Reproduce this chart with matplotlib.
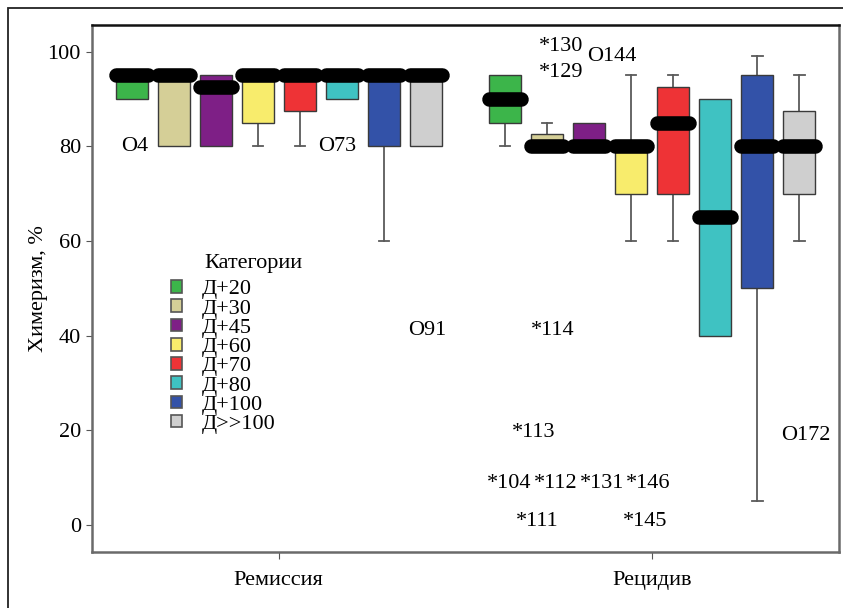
import matplotlib
matplotlib.use("Agg")
import matplotlib.pyplot as plt
from matplotlib.patches import Patch, Rectangle

# ── Data ───────────────────────────────────────────────────────────────────────
GROUPS     = ["Ремиссия", "Рецидив"]
CATEGORIES = ["Д+20", "Д+30", "Д+45", "Д+60", "Д+70", "Д+80", "Д+100", "Д>>100"]

# box statistics per group, one value per category
Q1     = [[90, 80, 80, 85, 87.5, 90, 80, 80],
          [85, 80, 80, 70, 70, 40, 50, 70]]
MEDIAN = [[95, 95, 92.5, 95, 95, 95, 95, 95],
          [90, 80, 80, 80, 85, 65, 80, 80]]
Q3     = [[95, 95, 95, 95, 95, 95, 95, 95],
          [95, 82.5, 85, 80, 92.5, 90, 95, 87.5]]
WHISLO = [[90, 80, 80, 80, 80, 90, 60, 80],
          [80, 80, 80, 60, 60, 40, 5, 60]]
WHISHI = [[95, 95, 95, 95, 95, 95, 95, 95],
          [95, 85, 85, 95, 95, 90, 99, 95]]

# outlying cases: group index, category index, value, case label
OUT_GROUP = [0, 0, 0, 1, 1, 1, 1, 1, 1, 1, 1, 1, 1, 1, 1]
OUT_CAT   = [0, 5, 7, 1, 1, 2, 1, 1, 0, 1, 2, 3, 1, 3, 7]
OUT_VALUE = [80, 80, 41, 101, 95.5, 99, 41, 19.6, 8.8, 8.8, 8.8, 8.8, 0.8, 0.8, 19]
OUT_LABEL = ["O4", "O73", "O91", "*130", "*129", "O144", "*114", "*113",
             "*104", "*112", "*131", "*146", "*111", "*145", "O172"]

# ── Style ──────────────────────────────────────────────────────────────────────
COLORS = ["#3cb54a", "#d5cf97", "#7e1f86", "#f8ec6c",
          "#ee3336", "#3fc2c2", "#3352a8", "#cfcfcf"]
# horizontal nudge of case labels (points) so they don't collide
LABEL_DX = [2, -3, 1, 10, 10, 16, 4, -10, 3, 6, 9, 12, -7, 10, 5]

plt.rcParams["font.family"] = ["Liberation Serif", "DejaVu Serif"]
plt.rcParams["font.size"] = 16

STEP  = 0.1125
WIDTH = 0.086

fig = plt.figure(figsize=(8.43, 6.08), dpi=100)
ax = fig.add_axes([92 / 843, 1 - 551.7 / 608, 747 / 843, 526.7 / 608])


def xpos(g, i):
    return g + (i - (len(CATEGORIES) - 1) / 2) * STEP


for g in range(len(GROUPS)):
    stats = []
    for i in range(len(CATEGORIES)):
        stats.append(dict(q1=Q1[g][i], med=MEDIAN[g][i], q3=Q3[g][i],
                          whislo=WHISLO[g][i], whishi=WHISHI[g][i], fliers=[]))
    parts = ax.bxp(
        stats,
        positions=[xpos(g, i) for i in range(len(CATEGORIES))],
        widths=WIDTH,
        capwidths=0.028,
        patch_artist=True,
        showfliers=False,
        boxprops=dict(edgecolor="#3a3a3a", linewidth=1.0),
        whiskerprops=dict(color="#5a5a5a", linewidth=1.3),
        capprops=dict(color="#5a5a5a", linewidth=1.3),
        medianprops=dict(color="black", linewidth=10.5, solid_capstyle="round", zorder=5),
        manage_ticks=False,
    )
    for i, box in enumerate(parts["boxes"]):
        box.set_facecolor(COLORS[i])
        box.set_zorder(3)
        # hide caps of zero-length whiskers
        if WHISLO[g][i] == Q1[g][i]:
            parts["caps"][2 * i].set_visible(False)
            parts["whiskers"][2 * i].set_visible(False)
        if WHISHI[g][i] == Q3[g][i]:
            parts["caps"][2 * i + 1].set_visible(False)
            parts["whiskers"][2 * i + 1].set_visible(False)

for g, c, v, lab, dx in zip(OUT_GROUP, OUT_CAT, OUT_VALUE, OUT_LABEL, LABEL_DX):
    ax.annotate(lab, (xpos(g, c), v), xytext=(dx, 0), textcoords="offset points",
                ha="center", va="center", fontsize=16, zorder=6)

# ── Axes ───────────────────────────────────────────────────────────────────────
ax.set_xlim(-0.5, 1.5)
ax.set_ylim(-5.6, 105.6)
ax.set_yticks([0, 20, 40, 60, 80, 100])
ax.set_xticks(range(len(GROUPS)))
ax.set_xticklabels(GROUPS)
ax.tick_params(axis="x", length=5, pad=9, color="#555555")
ax.tick_params(axis="y", length=4, pad=4, color="#555555")
ax.set_ylabel("Химеризм, %", labelpad=0)
for side in ["left", "bottom", "right"]:
    ax.spines[side].set_color("#6a6a6a")
    ax.spines[side].set_linewidth(1.8)
ax.spines["top"].set_color("#111111")
ax.spines["top"].set_linewidth(1.8)

# legend
handles = [Patch(facecolor=col, edgecolor="#555555", linewidth=1.2) for col in COLORS]
ax.text(0.151, 0.547, "Категории", transform=ax.transAxes, ha="left", va="center")
ax.legend(handles, CATEGORIES, loc="upper left", bbox_to_anchor=(0.085, 0.545),
          frameon=False, handlelength=0.5, handleheight=0.5,
          handletextpad=0.9, labelspacing=0.0, borderpad=0.2, fontsize=16)

# outer frame
fig.patches.append(Rectangle((8 / 843, -0.05), 1.2, 1.05 - 8 / 608, fill=False,
                             edgecolor="#222222", linewidth=1.3,
                             transform=fig.transFigure, figure=fig))

fig.savefig("out.png", dpi=100)
